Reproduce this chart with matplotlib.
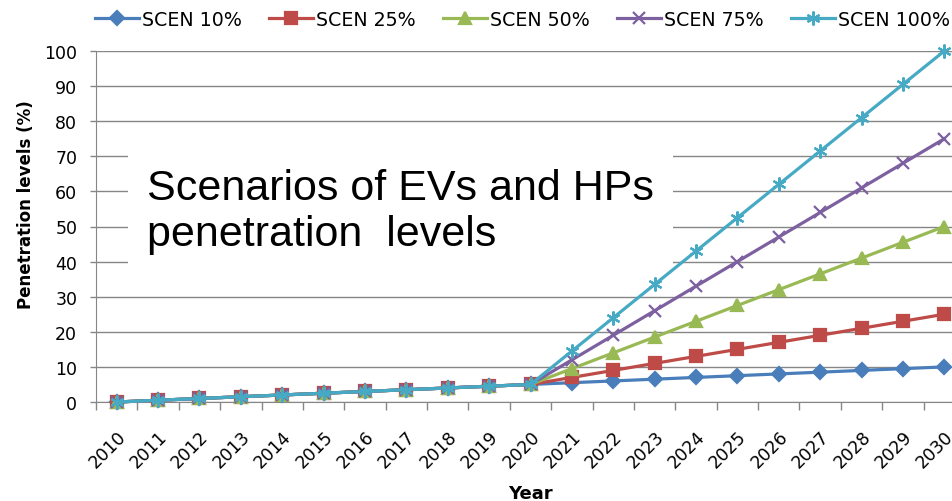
import matplotlib.pyplot as plt
from matplotlib.transforms import ScaledTranslation

years = [str(y) for y in range(2010, 2031)]
base = [0, 0.5, 1, 1.5, 2, 2.5, 3, 3.5, 4, 4.5, 5]
scen10 = base + [5.5, 6, 6.5, 7, 7.5, 8, 8.5, 9, 9.5, 10]
scen25 = base + [7, 9, 11, 13, 15, 17, 19, 21, 23, 25]
scen50 = base + [9.5, 14, 18.5, 23, 27.5, 32, 36.5, 41, 45.5, 50]
scen75 = base + [12, 19, 26, 33, 40, 47, 54, 61, 68, 75]
scen100 = base + [14.5, 24, 33.5, 43, 52.5, 62, 71.5, 81, 90.5, 100]

labels = ["SCEN 10%", "SCEN 25%", "SCEN 50%", "SCEN 75%", "SCEN 100%"]
colors = ["#4A7EBB", "#BE4B48", "#98B954", "#7D60A0", "#46AAC5"]
markers = ["D", "s", "^", "x", (6, 2, 0)]
msizes = [7, 8, 8, 8.5, 10]

plt.rcParams["font.family"] = ["DejaVu Sans"]

fig = plt.figure(figsize=(9.52, 5.02), dpi=100)
# plot area runs a bit past the right edge, like the cropped original
ax = fig.add_axes([96 / 952, 99 / 502, 869 / 952, 351 / 502])

x = list(range(len(years)))
series = [scen10, scen25, scen50, scen75, scen100]
for vals, lab, c, m, ms in zip(series, labels, colors, markers, msizes):
    ax.plot(x, vals, color=c, lw=2.3, marker=m, ms=ms, mew=1.6,
            mec=c, mfc=c, label=lab, clip_on=False, zorder=3)

ax.set_xlim(-0.5, 20.5)
ax.set_ylim(0, 100)
ax.set_yticks(range(0, 101, 10))
ax.set_xticks(x)
ax.set_xticklabels(years, rotation=45, ha="right", va="top",
                   rotation_mode="anchor", fontsize=12.5)
shift = ScaledTranslation(0.05, 0, fig.dpi_scale_trans)
for t in ax.get_xticklabels():
    t.set_transform(t.get_transform() + shift)
ax.set_xticks([k + 0.5 for k in range(-1, 21)], minor=True)
ax.tick_params(axis="x", which="major", length=0, pad=18)
ax.tick_params(axis="x", which="minor", length=6, color="#868686", width=1)
ax.tick_params(axis="y", length=4.5, color="#868686", width=1, labelsize=12.5,
               pad=9)
ax.yaxis.grid(True, color="#868686", lw=1, zorder=0)
ax.set_axisbelow(True)
for s in ["top", "right"]:
    ax.spines[s].set_visible(False)
for s in ["left", "bottom"]:
    ax.spines[s].set_color("#868686")

ax.set_ylabel("Penetration levels (%)", fontsize=12, fontweight="bold")
ax.yaxis.set_label_coords(-0.070, 0.564)
ax.set_xlabel("Year", fontsize=13, fontweight="bold")
ax.xaxis.set_label_coords(0.5, -0.235)

# white text box sitting on top of the gridlines
ax.text(0.73, 42.3, "Scenarios of EVs and HPs\npenetration  levels",
        fontsize=31, family="Liberation Sans", linespacing=1.18,
        va="bottom", ha="left", zorder=2,
        bbox=dict(boxstyle="square,pad=0.45", fc="white", ec="none"))

fig.legend(loc="center", ncol=5, bbox_to_anchor=(0.549, 0.96), frameon=False,
           fontsize=13.7, handlelength=2.3, columnspacing=1.45,
           handletextpad=0.16)

plt.savefig("out.png", dpi=100)
plt.close()
